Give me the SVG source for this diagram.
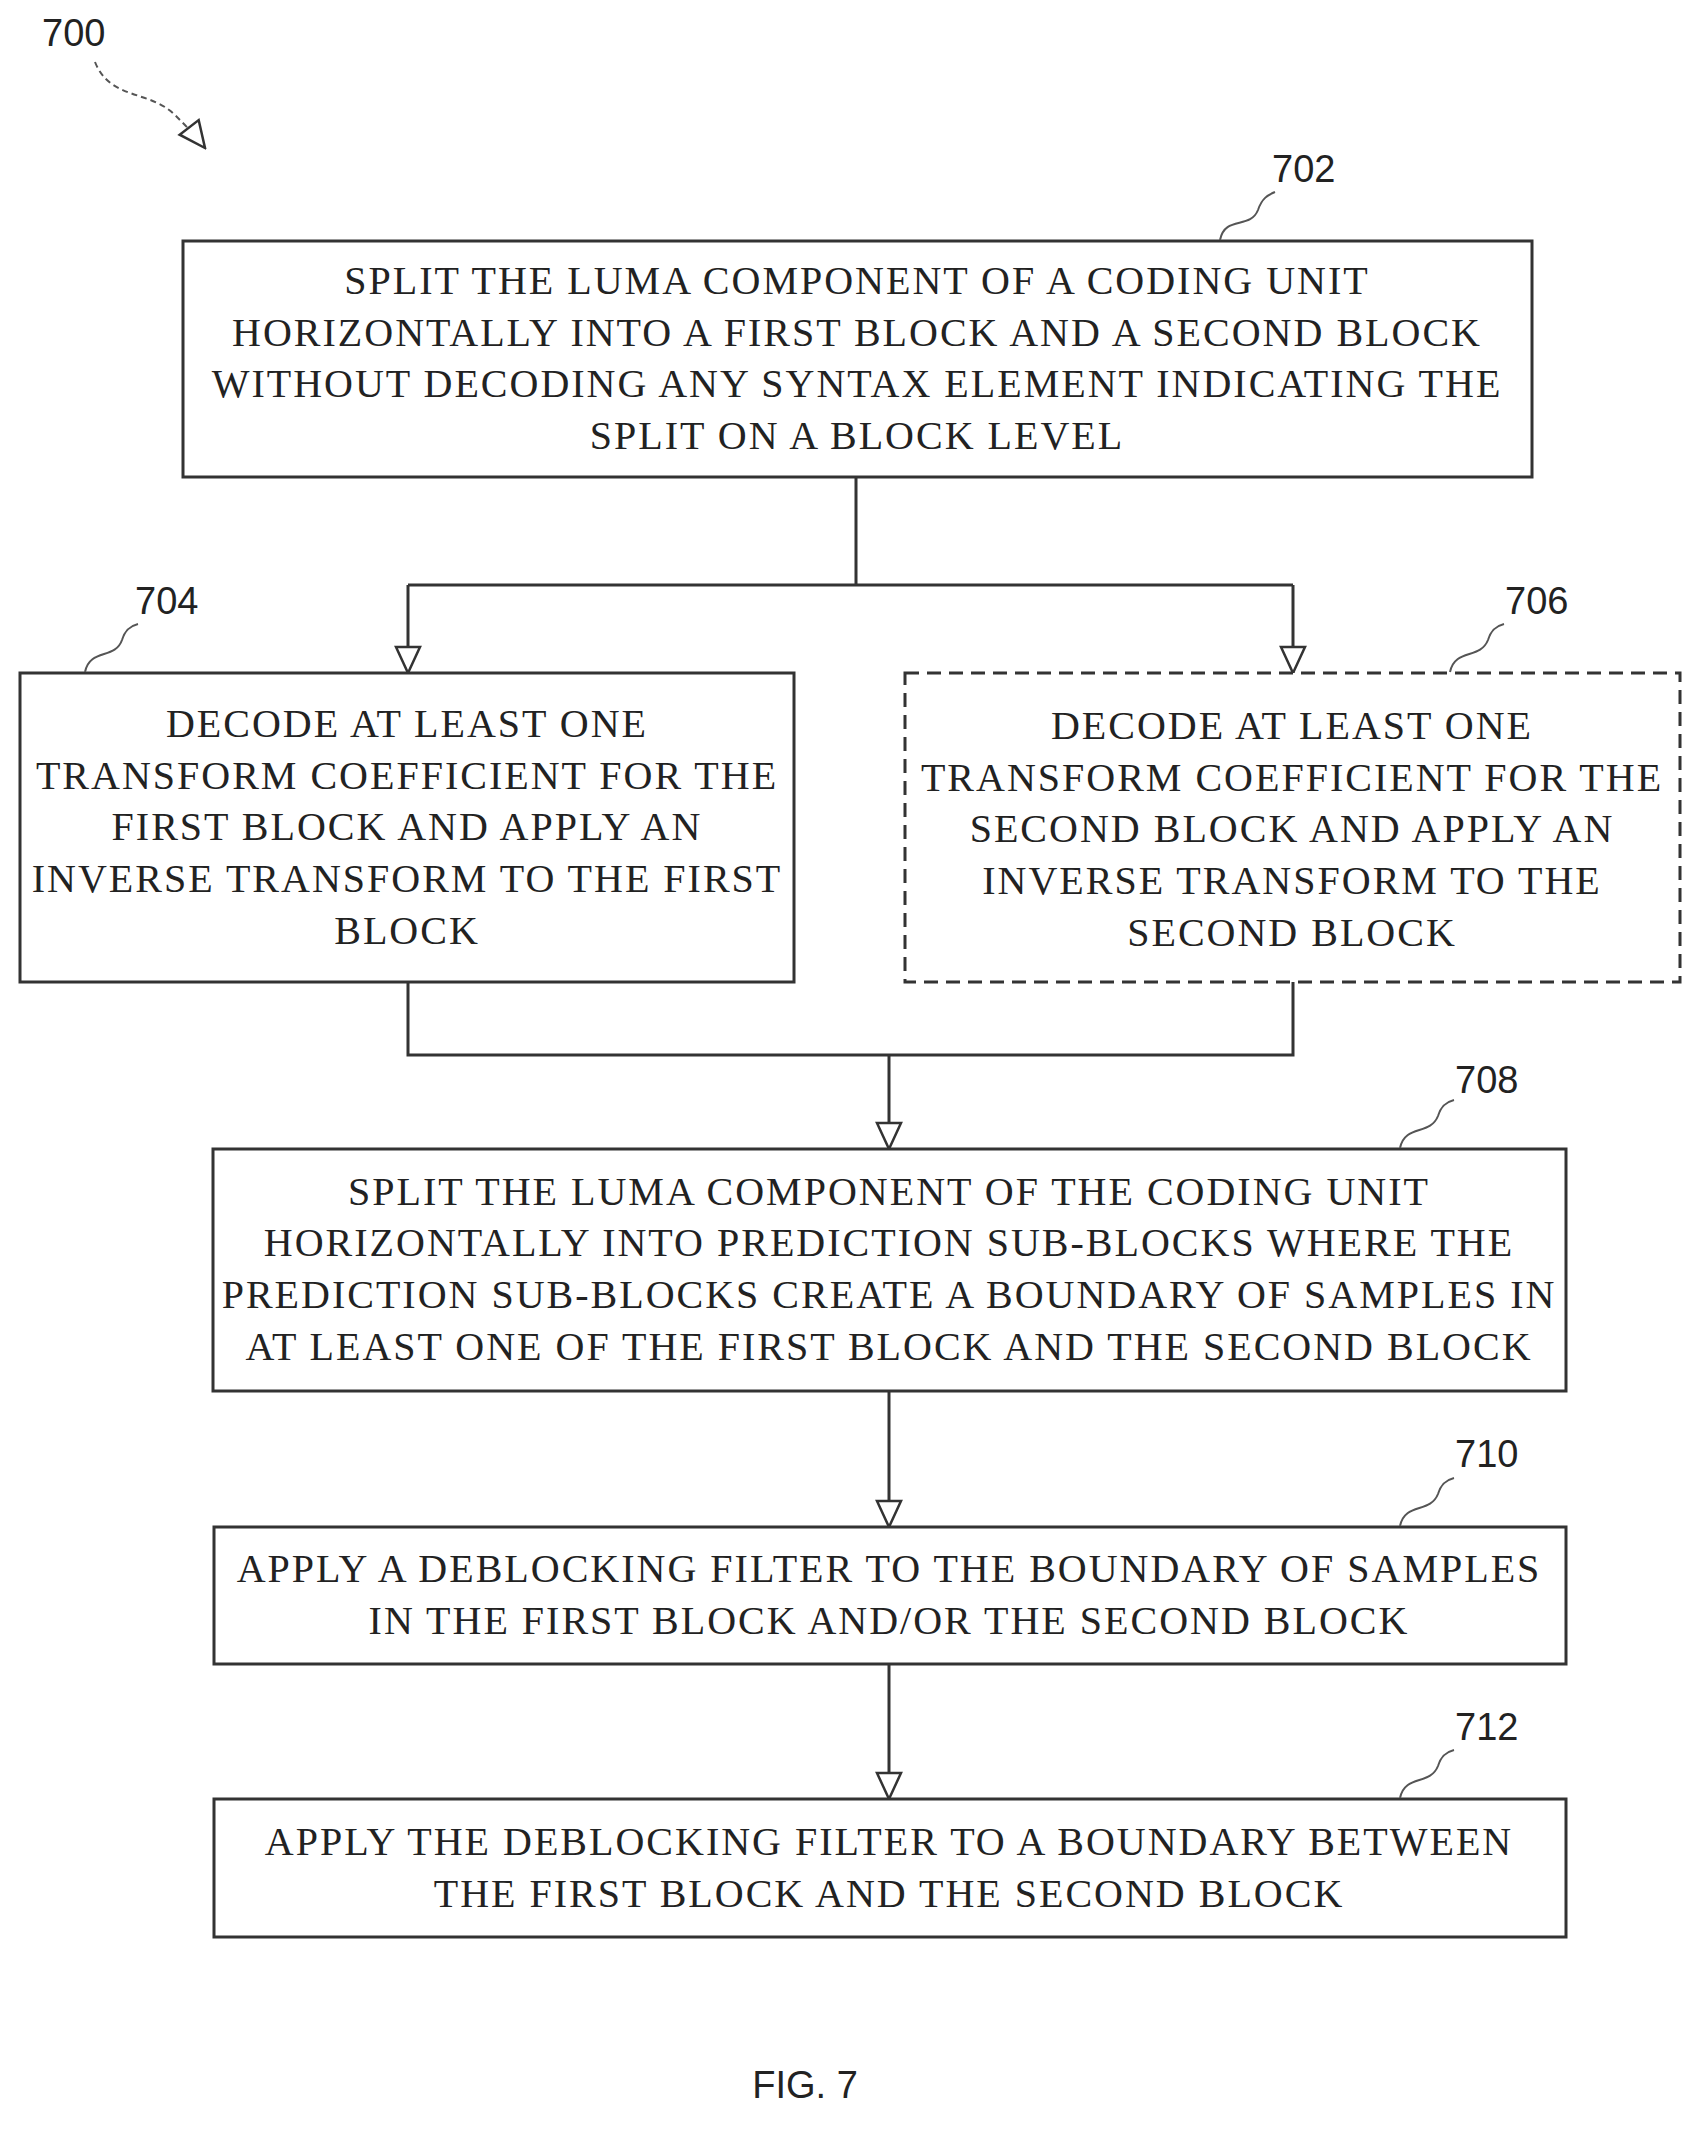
<svg xmlns="http://www.w3.org/2000/svg" width="1707" height="2133" viewBox="0 0 1707 2133">
<style>
.b{fill:#fff;stroke:#333;stroke-width:3}
.d{fill:#fff;stroke:#333;stroke-width:3;stroke-dasharray:14,8}
.t{font-family:"Liberation Serif",serif;font-size:40px;letter-spacing:2px;fill:#222;text-anchor:middle}
.n{font-family:"Liberation Sans",sans-serif;font-size:38px;fill:#222}
.c{fill:none;stroke:#333;stroke-width:3}
.l{fill:none;stroke:#555;stroke-width:2}
</style>
<defs>
<marker id="a2" markerWidth="30" markerHeight="30" refX="28" refY="15" orient="auto" markerUnits="userSpaceOnUse" viewBox="0 0 30 30"><path d="M2,3 L28,15 L2,27 Z" fill="#fff" stroke="#333" stroke-width="2.5"/></marker></defs>
<text class="n" x="42" y="46">700</text>
<path class="l" d="M95,62 C110,100 150,90 175,115 C185,125 195,135 205,148" stroke-dasharray="6,4" marker-end="url(#a2)"/>
<g id="connectors">
<path class="c" d="M856,477 V585 M408,585 H1293"/>
<path class="c" d="M408,585 V673" marker-end="url(#a2)"/>
<path class="c" d="M1293,585 V673" marker-end="url(#a2)"/>
<path class="c" d="M408,982 V1055 H1293 V982"/>
<path class="c" d="M889,1055 V1149" marker-end="url(#a2)"/>
<path class="c" d="M889,1391 V1527" marker-end="url(#a2)"/>
<path class="c" d="M889,1664 V1799" marker-end="url(#a2)"/>
</g>
<g id="n702"><rect class="b" x="183" y="241" width="1349" height="236"/>
<text class="t" x="857" y="294">SPLIT THE LUMA COMPONENT OF A CODING UNIT</text>
<text class="t" x="857" y="346">HORIZONTALLY INTO A FIRST BLOCK AND A SECOND BLOCK</text>
<text class="t" x="857" y="397">WITHOUT DECODING ANY SYNTAX ELEMENT INDICATING THE</text>
<text class="t" x="857" y="449">SPLIT ON A BLOCK LEVEL</text>
<text class="n" x="1272" y="182">702</text><path class="l" d="M1220,240 C1225,215 1250,230 1258,210 C1262,198 1268,195 1275,192"/></g>
<g id="n704"><rect class="b" x="20" y="673" width="774" height="309"/>
<text class="t" x="407" y="737">DECODE AT LEAST ONE</text>
<text class="t" x="407" y="789">TRANSFORM COEFFICIENT FOR THE</text>
<text class="t" x="407" y="840">FIRST BLOCK AND APPLY AN</text>
<text class="t" x="407" y="892">INVERSE TRANSFORM TO THE FIRST</text>
<text class="t" x="407" y="944">BLOCK</text>
<text class="n" x="135" y="614">704</text><path class="l" d="M85,672 C90,648 115,660 122,640 C125,630 130,626 138,624"/></g>
<g id="n706"><rect class="d" x="905" y="673" width="775" height="309"/>
<text class="t" x="1292" y="739">DECODE AT LEAST ONE</text>
<text class="t" x="1292" y="791">TRANSFORM COEFFICIENT FOR THE</text>
<text class="t" x="1292" y="842">SECOND BLOCK AND APPLY AN</text>
<text class="t" x="1292" y="894">INVERSE TRANSFORM TO THE</text>
<text class="t" x="1292" y="946">SECOND BLOCK</text>
<text class="n" x="1505" y="614">706</text><path class="l" d="M1450,672 C1455,648 1480,660 1488,640 C1491,630 1496,626 1504,624"/></g>
<g id="n708"><rect class="b" x="213" y="1149" width="1353" height="242"/>
<text class="t" x="889" y="1205">SPLIT THE LUMA COMPONENT OF THE CODING UNIT</text>
<text class="t" x="889" y="1256">HORIZONTALLY INTO PREDICTION SUB-BLOCKS WHERE THE</text>
<text class="t" x="889" y="1308">PREDICTION SUB-BLOCKS CREATE A BOUNDARY OF SAMPLES IN</text>
<text class="t" x="889" y="1360">AT LEAST ONE OF THE FIRST BLOCK AND THE SECOND BLOCK</text>
<text class="n" x="1455" y="1093">708</text><path class="l" d="M1400,1148 C1405,1124 1430,1136 1438,1116 C1441,1106 1446,1102 1454,1100"/></g>
<g id="n710"><rect class="b" x="214" y="1527" width="1352" height="137"/>
<text class="t" x="889" y="1582">APPLY A DEBLOCKING FILTER TO THE BOUNDARY OF SAMPLES</text>
<text class="t" x="889" y="1634">IN THE FIRST BLOCK AND/OR THE SECOND BLOCK</text>
<text class="n" x="1455" y="1467">710</text><path class="l" d="M1400,1526 C1405,1502 1430,1514 1438,1494 C1441,1484 1446,1480 1454,1478"/></g>
<g id="n712"><rect class="b" x="214" y="1799" width="1352" height="138"/>
<text class="t" x="889" y="1855">APPLY THE DEBLOCKING FILTER TO A BOUNDARY BETWEEN</text>
<text class="t" x="889" y="1907">THE FIRST BLOCK AND THE SECOND BLOCK</text>
<text class="n" x="1455" y="1740">712</text><path class="l" d="M1400,1798 C1405,1774 1430,1786 1438,1766 C1441,1756 1446,1752 1454,1750"/></g>
<text class="n" x="805" y="2098" text-anchor="middle" font-size="40">FIG. 7</text>
</svg>
